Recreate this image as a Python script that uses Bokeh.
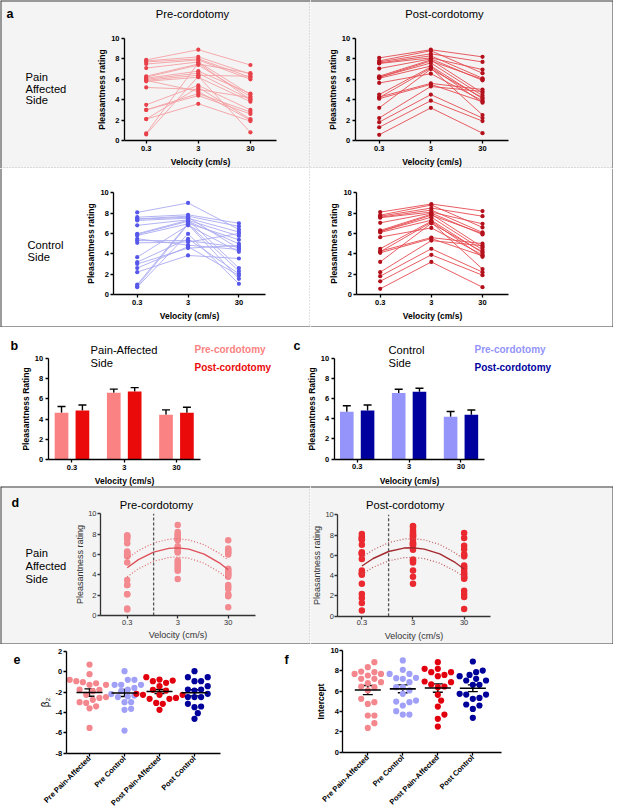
import math
from bokeh.plotting import figure
from bokeh.layouts import row, column
from bokeh.models import Label, Range1d, FixedTicker, Span, Whisker, TeeHead, ColumnDataSource
from bokeh.embed import file_html
from bokeh.resources import INLINE

# ---------------- data ----------------
vel_values = [0.3, 3, 30]
vel_labels = ["0.3", "3", "30"]

# panel a: per-subject ratings at 0.3, 3, 30 cm/s
pre_pain_03 = [7.9, 7.8, 7.7, 7.5, 7.1, 6.3, 6.2, 6.1, 6.0, 5.9, 5.8, 5.2, 3.5, 3.0, 3.0, 2.1, 2.1, 0.7, 0.6, 5.9]
pre_pain_3 = [8.9, 8.2, 8.0, 7.9, 7.7, 7.5, 7.4, 6.8, 6.6, 6.4, 6.2, 5.0, 5.4, 4.6, 4.4, 5.2, 3.6, 7.6, 6.3, 4.8]
pre_pain_30 = [7.4, 6.5, 6.2, 6.0, 4.5, 6.6, 4.3, 4.6, 4.0, 6.3, 3.8, 4.2, 3.0, 2.8, 2.6, 2.1, 1.9, 4.0, 0.8, 2.0]

post_pain_03 = [8.1, 7.8, 7.7, 7.6, 7.55, 7.05, 6.3, 6.2, 6.2, 6.1, 5.64, 4.5, 4.26, 4.2, 4.1, 3.2, 2.2, 1.8, 1.3, 0.56]
post_pain_3 = [8.9, 8.8, 8.5, 8.3, 8.1, 8.0, 7.9, 7.8, 7.6, 7.3, 6.55, 7.2, 5.6, 7.1, 5.5, 7.0, 5.3, 4.5, 3.9, 3.2]
post_pain_30 = [8.2, 6.6, 7.7, 6.1, 6.95, 5.9, 4.65, 6.0, 4.4, 4.1, 3.9, 3.7, 5.0, 2.5, 3.8, 4.2, 4.8, 2.2, 1.9, 0.72]

pre_ctrl_03 = [8.07, 7.6, 7.44, 7.4, 7.28, 6.8, 5.97, 5.9, 5.8, 5.48, 5.3, 5.08, 3.67, 3.18, 3.0, 2.6, 2.2, 0.98, 0.82, 0.72]
pre_ctrl_3 = [9.0, 7.84, 7.7, 7.6, 7.5, 7.34, 7.3, 7.2, 6.95, 4.85, 5.3, 5.15, 6.8, 5.48, 4.56, 4.7, 3.84, 7.0, 6.9, 5.97]
pre_ctrl_30 = [6.4, 7.0, 6.7, 4.5, 6.15, 2.6, 5.75, 4.98, 2.3, 4.43, 4.65, 6.0, 4.2, 2.03, 4.82, 1.87, 3.54, 5.38, 1.54, 1.05]

# the post-cordotomy control panel in the picture shows the same points as the pain side
post_ctrl_03 = list(post_pain_03)
post_ctrl_3 = list(post_pain_3)
post_ctrl_30 = list(post_pain_30)

# panels b, c: mean and SEM per velocity
b_pre_mean = [4.62, 6.6, 4.43]
b_pre_sem = [0.62, 0.36, 0.48]
b_post_mean = [4.85, 6.72, 4.62]
b_post_sem = [0.55, 0.38, 0.55]
c_pre_mean = [4.69, 6.53, 4.19]
c_pre_sem = [0.58, 0.38, 0.52]
c_post_mean = [4.79, 6.67, 4.39]
c_post_sem = [0.55, 0.33, 0.46]

# panel d: fitted quadratic curve and its confidence band, read at these velocities
fit_vel = [0.3, 0.5, 1, 2, 3, 5, 10, 20, 30]
pre_fit = [4.7, 5.49, 6.23, 6.60, 6.65, 6.53, 6.04, 5.18, 4.5]
pre_hi = [5.6, 6.38, 7.13, 7.50, 7.55, 7.43, 6.96, 6.11, 5.45]
pre_lo = [3.8, 4.59, 5.33, 5.70, 5.75, 5.63, 5.14, 4.28, 3.6]
post_fit = [4.95, 5.69, 6.38, 6.72, 6.75, 6.62, 6.14, 5.30, 4.65]
post_hi = [5.8, 6.55, 7.25, 7.61, 7.65, 7.53, 7.07, 6.24, 5.6]
post_lo = [4.15, 4.83, 5.46, 5.77, 5.8, 5.68, 5.23, 4.45, 3.85]
split_velocity = 1.0

# panels e, f
group_labels = ["Pre Pain-Affected", "Pre Control", "Post Pain-Affected", "Post Control"]
e_pre_pain = [0.69, -0.25, -0.81, -1.04, -1.14, -1.3, -0.94, -1.3, -1.79, -1.92, -1.76, -2.5, -2.58, -2.28, -2.77, -3.0, -3.07, -3.4, -3.6, -5.52]
e_pre_ctrl = [0.04, -0.81, -0.81, -1.3, -1.3, -1.3, -1.76, -1.92, -2.5, -2.44, -2.35, -3.0, -3.0, -3.65, -3.75, -5.78, -1.6, -2.2]
e_post_pain = [-0.55, -0.78, -0.88, -0.94, -1.1, -1.43, -1.79, -2.18, -2.28, -2.28, -2.28, -2.67, -2.67, -3.16, -3.07, -3.75, -2.58, -1.86]
e_post_ctrl = [0.04, -0.55, -0.55, -0.94, -0.94, -1.43, -1.76, -1.76, -1.86, -2.18, -2.5, -2.5, -2.5, -3.16, -3.49, -3.42, -4.08, -4.63]
e_means = [-2.05, -2.1, -1.95, -2.08]
e_sems = [0.36, 0.34, 0.2, 0.3]
e_ticks = [-8, -6, -4, -2, 0, 2]
e_tick_labels = ["-8", "-6", "-4", "-2", "0", "2"]

f_pre_pain = [8.85, 8.36, 7.93, 7.87, 7.7, 7.7, 7.54, 7.21, 7.21, 6.79, 6.89, 6.46, 6.39, 6.07, 5.25, 4.92, 4.75, 3.61, 3.61, 2.85, 2.39]
f_pre_ctrl = [9.02, 8.1, 7.7, 7.7, 7.21, 7.31, 7.28, 6.89, 6.39, 6.39, 5.74, 5.08, 4.98, 4.92, 4.59, 4.03, 3.7, 3.7, 6.07]
f_post_pain = [8.85, 8.2, 8.2, 7.87, 7.87, 6.95, 7.6, 7.48, 6.89, 6.46, 6.39, 6.66, 5.64, 5.08, 4.49, 3.7, 3.28, 2.52]
f_post_ctrl = [8.92, 7.87, 8.03, 7.48, 7.6, 7.05, 7.21, 7.05, 6.62, 6.62, 5.67, 5.67, 5.74, 5.25, 5.34, 4.59, 4.69, 4.26, 3.38]
f_means = [6.11, 6.23, 6.31, 6.29]
f_sems = [0.45, 0.39, 0.41, 0.33]

rating_ticks = [0, 2, 4, 6, 8, 10]

# ---------------- styling helpers ----------------
FONT = "Liberation Sans"
GRAY = "#f4f4f4"
WHITE = "#ffffff"
SOLID = "#3a3a3a"
DOTC = "#8a8a8a"
TW = 613


def fs(v):
    return "%.2fpx" % v


def make_fig(ox, oy, W, H, frame, xr, yr, bg, xtype="linear"):
    """The plot frame fills the whole cell; the axes sit at a fixed location inside it."""
    fl, ft, fr, fb = frame
    L, R, T, B = fl - ox, fr - ox, ft - oy, fb - oy
    if xtype == "log":
        a0, a1 = math.log10(xr[0]), math.log10(xr[1])
    else:
        a0, a1 = xr
    dx = (a1 - a0) / (R - L)
    c0, c1 = a0 - L * dx, a1 + (W - R) * dx
    if xtype == "log":
        c0, c1 = 10 ** c0, 10 ** c1
    dy = (yr[1] - yr[0]) / (B - T)
    d0, d1 = yr[0] - (H - B) * dy, yr[1] + T * dy
    p = figure(width=W, height=H, min_border_left=0, min_border_right=0,
               min_border_top=0, min_border_bottom=0,
               x_range=Range1d(c0, c1), y_range=Range1d(d0, d1), x_axis_type=xtype,
               output_backend="svg", toolbar_location=None,
               background_fill_color=bg, border_fill_color=bg,
               outline_line_color=None)
    p.xgrid.visible = False
    p.ygrid.visible = False
    p.xaxis.fixed_location = yr[0]
    p.xaxis.bounds = (xr[0], xr[1])
    p.yaxis.fixed_location = xr[0]
    p.yaxis.bounds = (yr[0], yr[1])
    edges = dict(left=c0, right=c1, bottom=d0, top=d1)
    return p, (ox, oy + H), edges


def border(p, edges, sides, dotted=False):
    for side in sides:
        dim = "height" if side in ("left", "right") else "width"
        p.add_layout(Span(location=edges[side], dimension=dim,
                          line_color=DOTC if dotted else SOLID, line_width=2,
                          line_dash="1 2" if dotted else "solid"))


def txt(p, org, x, y, text, size, bold=False, align="left", color="#000000"):
    ox, ob = org
    p.add_layout(Label(x=x - ox, y=ob - y, x_units="screen", y_units="screen",
                       text=text, text_font=FONT, text_font_size=fs(size),
                       text_font_style="bold" if bold else "normal",
                       text_align=align, text_baseline="middle", text_color=color))


def style_axes(p, bold=True, tick=7.5, lab=8.5, color="#000000", xs=3, ys=1, mls=2):
    for ax in p.axis:
        ax.axis_line_color = color
        ax.axis_line_width = 1.3
        ax.major_tick_line_color = color
        ax.major_tick_line_width = 1.3
        ax.major_tick_in = 0
        ax.major_tick_out = 3
        ax.minor_tick_line_color = None
        ax.major_label_text_font = FONT
        ax.major_label_text_font_size = fs(tick)
        ax.major_label_text_font_style = "bold" if bold else "normal"
        ax.major_label_text_color = color
        ax.major_label_standoff = mls
        ax.axis_label_text_font = FONT
        ax.axis_label_text_font_size = fs(lab)
        ax.axis_label_text_font_style = "bold" if bold else "normal"
        ax.axis_label_text_color = color
    p.xaxis.axis_label_standoff = xs
    p.yaxis.axis_label_standoff = ys


def vel_axis(p, ylabel, xlabel="Velocity (cm/s)"):
    p.xaxis.ticker = FixedTicker(ticks=vel_values)
    p.xaxis.major_label_overrides = dict(zip(vel_values, vel_labels))
    p.yaxis.ticker = FixedTicker(ticks=rating_ticks)
    p.xaxis.axis_label = xlabel
    p.yaxis.axis_label = ylabel


def spaghetti(p, v03, v3, v30, line_color, dot_color):
    n = len(v03)
    ys = [[a, b, c] for a, b, c in zip(v03, v3, v30)]
    p.multi_line(xs=[list(vel_values) for _ in range(n)], ys=ys,
                 line_color=line_color, line_width=0.9)
    p.scatter(x=[vel_values[0]] * n + [vel_values[1]] * n + [vel_values[2]] * n,
              y=list(v03) + list(v3) + list(v30), size=4.2,
              fill_color=dot_color, line_color=None)


def swarm(vals, ppx, ppy, diam):
    placed = []
    offs = [0.0] * len(vals)
    for i in sorted(range(len(vals)), key=lambda k: vals[k]):
        y = vals[i] * ppy
        dx = 0.0
        for step in range(60):
            k = (step + 1) // 2
            sgn = 1 if step % 2 else -1
            dx = sgn * k * diam * 0.5
            if all((dx - qx) ** 2 + (y - qy) ** 2 >= (diam * 0.95) ** 2 for qx, qy in placed):
                break
        placed.append((dx, y))
        offs[i] = dx / ppx
    return offs


# ---------------- geometry (pixels) ----------------
XL = 310
Y_A2, Y_B, Y_D, Y_E, Y_END = 168, 327, 486, 644, 809
XB = 288
XE = 280

# ---------------- panel a ----------------
a_tl, o, ed = make_fig(0, 0, XL, Y_A2, (124, 38, 276, 140), (0.115, 95), (0, 10), GRAY, "log")
vel_axis(a_tl, "Pleasantness rating")
style_axes(a_tl)
spaghetti(a_tl, pre_pain_03, pre_pain_3, pre_pain_30, "#f5a0a4", "#e8414a")
border(a_tl, ed, ["top", "left"])
border(a_tl, ed, ["right", "bottom"], dotted=True)
txt(a_tl, o, 6, 13, "a", 12.5, bold=True)
txt(a_tl, o, 192, 13, "Pre-cordotomy", 11.2, align="center")
for t, yy in zip(["Pain", "Affected", "Side"], [76, 88, 99.5]):
    txt(a_tl, o, 25, yy, t, 11.2)

a_tr, o, ed = make_fig(XL, 0, TW - XL, Y_A2, (354.7, 38, 508, 140), (0.103, 95.5), (0, 10), GRAY, "log")
vel_axis(a_tr, "Pleasantness rating")
style_axes(a_tr)
spaghetti(a_tr, post_pain_03, post_pain_3, post_pain_30, "#e54b50", "#b3121d")
border(a_tr, ed, ["top", "right"])
border(a_tr, ed, ["bottom"], dotted=True)
txt(a_tr, o, 444, 13, "Post-cordotomy", 11.2, align="center")

a_bl, o, ed = make_fig(0, Y_A2, XL, Y_B - Y_A2, (113.3, 192.3, 265, 294), (0.104, 100), (0, 10), WHITE, "log")
vel_axis(a_bl, "Pleasantness rating")
style_axes(a_bl)
spaghetti(a_bl, pre_ctrl_03, pre_ctrl_3, pre_ctrl_30, "#aaaaf2", "#5757ea")
border(a_bl, ed, ["left", "bottom"])
border(a_bl, ed, ["right"], dotted=True)
for t, yy in zip(["Control", "Side"], [244, 256]):
    txt(a_bl, o, 27, yy, t, 11.2)

a_br, o, ed = make_fig(XL, Y_A2, TW - XL, Y_B - Y_A2, (356.3, 192.3, 508, 294), (0.1047, 96.6), (0, 10), WHITE, "log")
vel_axis(a_br, "Pleasantness rating")
style_axes(a_br)
spaghetti(a_br, post_ctrl_03, post_ctrl_3, post_ctrl_30, "#e54b50", "#b3121d")
border(a_br, ed, ["right", "bottom"])


# ---------------- panels b, c ----------------
def bar_panel(p, pre_m, pre_s, post_m, post_s, c_pre, c_post):
    idx = list(range(len(vel_labels)))
    p.xaxis.ticker = FixedTicker(ticks=idx)
    p.xaxis.major_label_overrides = dict(zip(idx, vel_labels))
    p.yaxis.ticker = FixedTicker(ticks=rating_ticks)
    p.xaxis.axis_label = "Velocity (cm/s)"
    p.yaxis.axis_label = "Pleasantness Rating"
    for shift, means, sems, col in ((-0.2, pre_m, pre_s, c_pre), (0.2, post_m, post_s, c_post)):
        xs = [i + shift for i in idx]
        p.vbar(x=xs, top=means, bottom=0, width=0.262, fill_color=col, line_color=None)
        src = ColumnDataSource(dict(base=xs, lower=means,
                                    upper=[m + s for m, s in zip(means, sems)]))
        p.add_layout(Whisker(source=src, base="base", lower="lower", upper="upper",
                             dimension="height", line_color="#000000", line_width=1.4,
                             lower_head=None,
                             upper_head=TeeHead(size=8, line_color="#000000", line_width=1.4)))


pb, o, ed = make_fig(0, Y_B, XB, Y_D - Y_B, (47.7, 357.7, 200, 459.3), (-0.455, 2.46), (0, 10), WHITE)
bar_panel(pb, b_pre_mean, b_pre_sem, b_post_mean, b_post_sem, "#fa8282", "#ea0a0a")
style_axes(pb)
txt(pb, o, 10, 345.5, "b", 12.5, bold=True)
txt(pb, o, 90, 349, "Pain-Affected", 11.2)
txt(pb, o, 90, 362, "Side", 11.2)
txt(pb, o, 194, 349, "Pre-cordotomy", 10, bold=True, color="#fa8282")
txt(pb, o, 194, 367, "Post-cordotomy", 10, bold=True, color="#ea0a0a")

pc, o, ed = make_fig(XB, Y_B, TW - XB, Y_D - Y_B, (333.7, 357.5, 484, 458.5), (-0.443, 2.453), (0, 10), WHITE)
bar_panel(pc, c_pre_mean, c_pre_sem, c_post_mean, c_post_sem, "#9494fa", "#00009e")
style_axes(pc)
txt(pc, o, 293, 345.5, "c", 12.5, bold=True)
txt(pc, o, 388, 349, "Control", 11.2)
txt(pc, o, 388, 362, "Side", 11.2)
txt(pc, o, 474, 349, "Pre-cordotomy", 10, bold=True, color="#9494fa")
txt(pc, o, 474, 367, "Post-cordotomy", 10, bold=True, color="#00009e")


# ---------------- panel d ----------------
def fit_panel(p, v03, v3, v30, fit, hi, lo, dot_c, fit_c, ci_c):
    n = len(v03)
    p.scatter(x=[vel_values[0]] * n + [vel_values[1]] * n + [vel_values[2]] * n,
              y=list(v03) + list(v3) + list(v30), size=6.5,
              fill_color=dot_c, line_color=None)
    p.line(fit_vel, fit, line_color=fit_c, line_width=1.4)
    p.line(fit_vel, hi, line_color=ci_c, line_width=1.2, line_dash="1 2")
    p.line(fit_vel, lo, line_color=ci_c, line_width=1.2, line_dash="1 2")
    p.segment(x0=[split_velocity], x1=[split_velocity], y0=[0], y1=[10],
              line_color="#555555", line_dash="3 2", line_width=1.3)


d_l, o, ed = make_fig(0, Y_D, XL, Y_E - Y_D, (100, 513.3, 255, 615), (0.0888, 104), (0, 10), GRAY, "log")
vel_axis(d_l, "Pleasantness rating")
style_axes(d_l, bold=False, tick=7.5, lab=9, color="#333333", xs=2, ys=0, mls=1)
fit_panel(d_l, pre_pain_03, pre_pain_3, pre_pain_30, pre_fit, pre_hi, pre_lo,
          "#f38a90", "#e0505a", "#e0646b")
border(d_l, ed, ["top", "left", "bottom"])
border(d_l, ed, ["right"], dotted=True)
txt(d_l, o, 11, 502, "d", 12.5, bold=True)
txt(d_l, o, 156, 504, "Pre-cordotomy", 11.2, align="center")
for t, yy in zip(["Pain", "Affected", "Side"], [552, 565, 578]):
    txt(d_l, o, 25, yy, t, 11.2)

d_r, o, ed = make_fig(XL, Y_D, TW - XL, Y_E - Y_D, (337.3, 514.3, 489.7, 615.7), (0.1016, 97), (0, 10), GRAY, "log")
vel_axis(d_r, "Pleasantness rating")
style_axes(d_r, bold=False, tick=7.5, lab=9, color="#333333", xs=2, ys=0, mls=1)
fit_panel(d_r, post_pain_03, post_pain_3, post_pain_30, post_fit, post_hi, post_lo,
          "#ea2a30", "#a42a30", "#c0585c")
border(d_r, ed, ["top", "right", "bottom"])
txt(d_r, o, 404.7, 504, "Post-cordotomy", 11.2, align="center")

# ---------------- panels e, f ----------------
group_colors = ["#f4878d", "#a0a0f8", "#e3000e", "#00009a"]


def dot_panel(p, groups, means, sems, frame, xr, yr, ylabel, ticks, tick_labels):
    fl, ft, fr, fb = frame
    ppx = (fr - fl) / (xr[1] - xr[0])
    ppy = (fb - ft) / (yr[1] - yr[0])
    idx = list(range(len(group_labels)))
    for i, vals, col in zip(idx, groups, group_colors):
        offs = swarm(vals, ppx, ppy, 6.6)
        p.scatter(x=[i + d for d in offs], y=vals, size=6.2, fill_color=col, line_color=None)
    src = ColumnDataSource(dict(x=idx, m=means,
                                lo=[m - s for m, s in zip(means, sems)],
                                hi=[m + s for m, s in zip(means, sems)]))
    p.add_layout(Whisker(source=src, base="x", lower="lo", upper="hi", dimension="height",
                         line_color="#000000", line_width=1.4,
                         lower_head=TeeHead(size=10, line_color="#000000", line_width=1.4),
                         upper_head=TeeHead(size=10, line_color="#000000", line_width=1.4)))
    p.scatter(x="x", y="m", source=src, marker="dash", size=26,
              line_color="#000000", line_width=1.6)
    p.xaxis.ticker = FixedTicker(ticks=idx)
    p.xaxis.major_label_overrides = dict(zip(idx, group_labels))
    p.xaxis.major_label_orientation = math.pi / 4
    p.yaxis.ticker = FixedTicker(ticks=ticks)
    p.yaxis.major_label_overrides = dict(zip(ticks, tick_labels))
    p.yaxis.axis_label = ylabel


fe_ = (65.7, 650.7, 220, 752.7)
pe, o, ed = make_fig(0, Y_E, XE, Y_END - Y_E, fe_, (-0.666, 3.743), (-8, 2), WHITE)
dot_panel(pe, [e_pre_pain, e_pre_ctrl, e_post_pain, e_post_ctrl], e_means, e_sems,
          fe_, (-0.666, 3.743), (-8, 2), "β₂", e_ticks, e_tick_labels)
style_axes(pe, ys=2, mls=1)
pe.yaxis.axis_label_text_font_style = "normal"
pe.yaxis.axis_label_text_font_size = fs(10)
txt(pe, o, 13, 659, "e", 12.5, bold=True)

ff_ = (342.3, 650, 500.7, 751.7)
pf, o, ed = make_fig(XE, Y_E, TW - XE, Y_END - Y_E, ff_, (-0.714, 3.81), (0, 10), WHITE)
dot_panel(pf, [f_pre_pain, f_pre_ctrl, f_post_pain, f_post_ctrl], f_means, f_sems,
          ff_, (-0.714, 3.81), (0, 10), "Intercept", rating_ticks, [str(t) for t in rating_ticks])
style_axes(pf, ys=1, mls=1)
txt(pf, o, 284, 659, "f", 12.5, bold=True)

# ---------------- layout ----------------
page = column(row(a_tl, a_tr), row(a_bl, a_br), row(pb, pc), row(d_l, d_r), row(pe, pf))

open("out.html", "w").write(file_html(page, INLINE))
